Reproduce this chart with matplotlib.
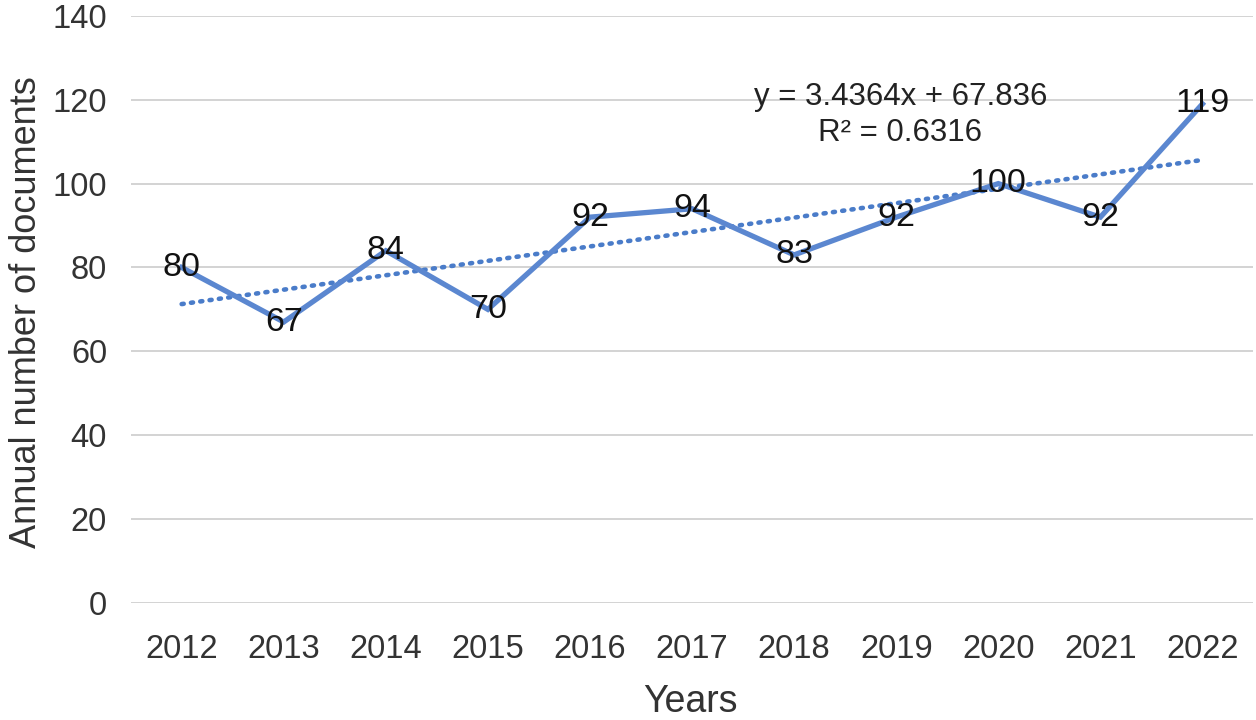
import numpy as np
import matplotlib
matplotlib.use("Agg")
import matplotlib.pyplot as plt

plt.rcParams['font.family'] = ['Liberation Sans', 'DejaVu Sans']

years = ["2012", "2013", "2014", "2015", "2016", "2017", "2018", "2019", "2020", "2021", "2022"]
documents = [80, 67, 84, 70, 92, 94, 83, 92, 100, 92, 119]
yticks = [0, 20, 40, 60, 80, 100, 120, 140]
equation_text = "y = 3.4364x + 67.836\nR² = 0.6316"

fig = plt.figure(figsize=(12.56, 7.2), dpi=100)
ax = fig.add_axes([0.104, 0.1625, 0.894, 0.8155])

x = np.arange(len(years))
line_color = "#5B87D0"

for t in yticks:
    ax.axhline(t, color="#D0D0D0", lw=1.3, zorder=0)

# trend line
coef = np.polyfit(x + 1, documents, 1)
trend = np.polyval(coef, x + 1)
ax.plot(x, trend, color="#4A7CC9", lw=3.3, linestyle=(0, (0.45, 1.6)),
        dash_capstyle="round", zorder=2)

ax.plot(x, documents, color=line_color, lw=3.8, solid_joinstyle="miter", zorder=3)

for xi, v in zip(x, documents):
    ax.text(xi, v, str(v), ha="center", va="center", fontsize=24.5,
            color="#111111", zorder=4)

ax.text(7.04, 116.3, equation_text, ha="center", va="center", fontsize=22.5,
        color="#222222", linespacing=1.25)

ax.set_xlim(-0.5, 10.5)
ax.set_ylim(0, 140)
ax.set_xticks(x)
ax.set_xticklabels(years)
ax.set_yticks(yticks)
for s in ax.spines.values():
    s.set_visible(False)
ax.tick_params(axis="both", length=0, labelsize=23.5, colors="#333333")
ax.tick_params(axis="x", pad=22)
ax.tick_params(axis="y", pad=17)

ax.set_xlabel("Years", fontsize=27, color="#333333")
ax.set_ylabel("Annual number of documents", fontsize=26, color="#333333")
# place labels in figure pixel positions via axes-fraction coords
ax_w_px = 0.894 * 1256
ax_h_px = 0.8155 * 720
ax_x0 = 0.104 * 1256
ax_y0 = 0.1625 * 720
ax.xaxis.set_label_coords((690 - ax_x0) / ax_w_px, (18 - ax_y0) / ax_h_px)
ax.xaxis.label.set_va("center")
ax.yaxis.set_label_coords((27 - ax_x0) / ax_w_px, (720 - 312 - ax_y0) / ax_h_px)
ax.yaxis.label.set_va("center")

fig.savefig("out.png", dpi=100)
